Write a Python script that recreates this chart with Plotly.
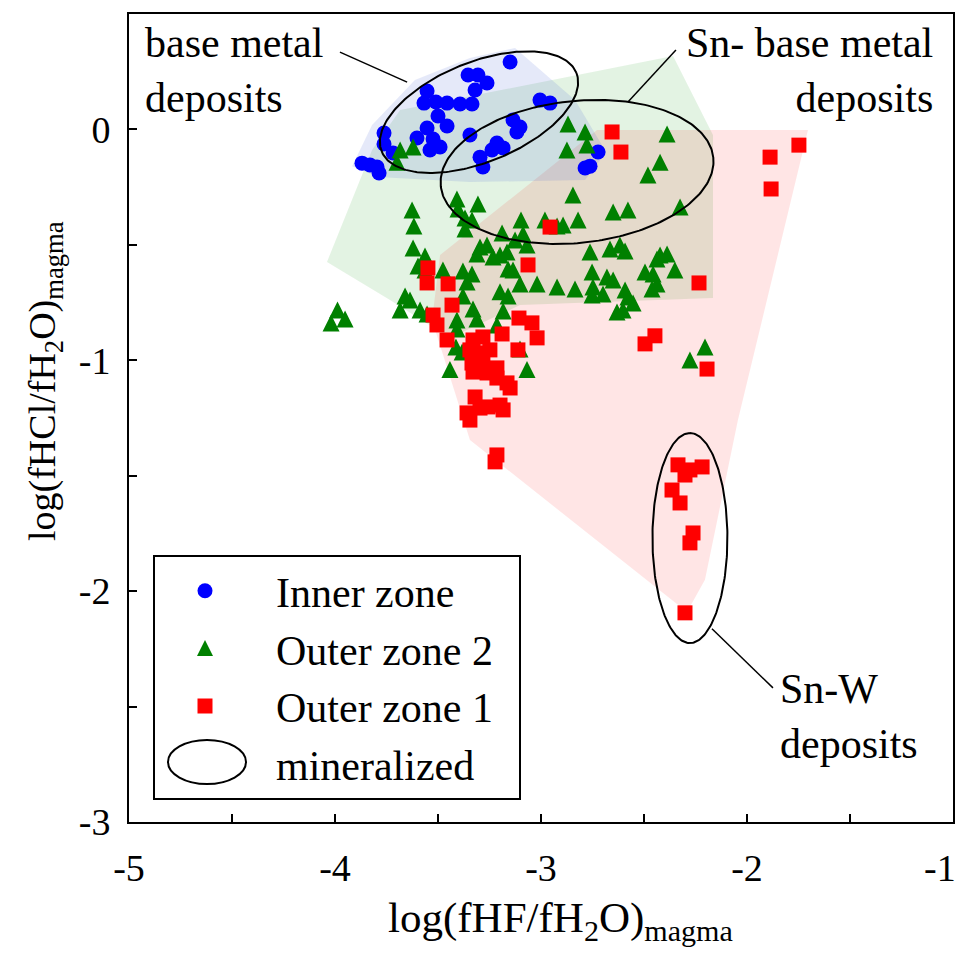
import numpy as np
import plotly.graph_objects as go

# ---------------- data ----------------
inner_x = [-3.150, -3.354, -3.306, -3.262, -3.320, -3.553, -3.568, -3.510, -3.456, -3.393,
           -3.335, -3.500, -3.456, -3.005, -2.956, -3.762, -3.762, -3.718, -3.553, -3.524,
           -3.490, -3.539, -3.602, -3.869, -3.796, -3.786, -3.830, -3.345, -3.136, -3.117,
           -3.102, -3.214, -3.184, -3.238, -3.296, -3.282, -2.723, -2.786, -2.762]
inner_y = [0.292, 0.236, 0.236, 0.201, 0.171, 0.166, 0.114, 0.119, 0.114, 0.110,
           0.110, 0.058, 0.015, 0.127, 0.114, -0.016, -0.063, -0.102, 0.006, -0.042,
           -0.076, -0.089, -0.037, -0.146, -0.163, -0.189, -0.154, -0.024, 0.041, -0.011,
           0.010, -0.059, -0.080, -0.089, -0.120, -0.163, -0.098, -0.167, -0.159]

outer2_x = [-3.684, -3.621, -3.699, -2.869, -2.786, -2.777, -2.874, -2.388, -2.422, -2.481,
            -2.845, -3.408, -3.306, -3.403, -3.369, -3.335, -3.369, -3.626, -3.617, -3.621,
            -3.563, -3.597, -3.563, -3.476, -3.660, -3.636, -3.684, -3.587, -3.553, -3.988,
            -4.019, -3.951, -3.379, -3.335, -3.359, -3.379, -3.330, -3.311, -3.408, -3.408,
            -3.413, -3.383, -3.442, -3.199, -3.160, -3.184, -3.214, -3.102, -3.019, -2.922,
            -2.835, -2.748, -2.680, -2.650, -2.699, -2.592, -2.578, -2.631, -2.602, -2.553,
            -2.495, -2.456, -2.437, -2.461, -2.388, -2.350, -2.437, -2.422, -3.296, -3.262,
            -3.233, -3.189, -3.165, -3.199, -3.160, -3.136, -3.097, -3.087, -3.068, -3.126,
            -2.981, -2.922, -2.893, -2.820, -2.650, -2.578, -2.325, -2.762, -2.665, -2.617,
            -2.592, -2.752, -2.752, -2.277, -2.204, -3.102, -3.068, -3.311]
outer2_y = [-0.016, -0.003, -0.068, 0.097, 0.062, 0.006, -0.016, 0.054, -0.068, -0.124,
            -0.210, -0.228, -0.249, -0.271, -0.310, -0.319, -0.358, -0.275, -0.345, -0.440,
            -0.475, -0.518, -0.535, -0.535, -0.648, -0.665, -0.709, -0.709, -0.726, -0.709,
            -0.765, -0.748, -0.540, -0.553, -0.587, -0.648, -0.704, -0.748, -0.752, -0.791,
            -0.869, -0.890, -0.966, -0.630, -0.648, -0.713, -0.773, -0.596, -0.596, -0.609,
            -0.618, -0.609, -0.566, -0.579, -0.639, -0.622, -0.652, -0.717, -0.709, -0.678,
            -0.544, -0.553, -0.596, -0.618, -0.466, -0.535, -0.488, -0.470, -0.436, -0.427,
            -0.479, -0.375, -0.457, -0.470, -0.531, -0.535, -0.319, -0.379, -0.427, -0.405,
            -0.319, -0.345, -0.340, -0.319, -0.284, -0.275, -0.262, -0.457, -0.444, -0.427,
            -0.453, -0.544, -0.644, -0.925, -0.869, -0.877, -0.966, -0.466]

outer1_x = [-2.655, -2.612, -1.888, -1.748, -1.883, -2.956, -2.233, -2.447, -2.495, -2.194,
            -3.063, -3.549, -3.553, -3.451, -3.432, -3.524, -3.505, -3.456, -3.107, -3.044,
            -3.019, -3.112, -3.330, -3.282, -3.189, -3.345, -3.296, -3.248, -3.335, -3.282,
            -3.330, -3.262, -3.214, -3.214, -3.165, -3.150, -3.320, -3.359, -3.345, -3.296,
            -3.257, -3.199, -3.184, -3.214, -3.223, -2.335, -2.277, -2.218, -2.301, -2.364,
            -2.325, -2.262, -2.277, -2.301]
outer1_y = [-0.011, -0.098, -0.120, -0.068, -0.258, -0.423, -0.665, -0.894, -0.929, -1.038,
            -0.587, -0.600, -0.665, -0.669, -0.761, -0.804, -0.847, -0.912, -0.817, -0.838,
            -0.903, -0.955, -0.912, -0.899, -0.886, -0.955, -0.968, -0.955, -1.012, -0.999,
            -1.051, -1.055, -1.033, -1.077, -1.098, -1.120, -1.159, -1.228, -1.259, -1.207,
            -1.202, -1.194, -1.215, -1.410, -1.440, -1.453, -1.475, -1.462, -1.497, -1.562,
            -1.618, -1.748, -1.791, -2.094]

# shaded fields of each group
inner_field_x = [-3.917, -3.791, -3.345, -2.786, -2.684, -2.835, -3.126, -3.345, -3.612, -3.820]
inner_field_y = [-0.159, -0.206, -0.228, -0.219, -0.098, 0.127, 0.353, 0.309, 0.214, 0.019]
outer2_field_x = [-4.039, -3.820, -3.684, -2.359, -2.165, -2.165, -3.102, -3.442, -3.733]
outer2_field_y = [-0.574, -0.089, 0.084, 0.318, -0.024, -0.730, -0.761, -0.903, -0.739]
outer1_field_x = [-2.728, -1.704, -2.044, -2.204, -2.291, -3.345, -3.529, -3.490]
outer1_field_y = [-0.003, -0.003, -1.259, -1.951, -2.090, -1.345, -0.825, -0.544]

# mineralized ellipses: centre (data), semi-axes (px), tilt (deg)
ell_cx = [-3.301, -2.825, -2.277]
ell_cy = [0.075, -0.184, -1.770]
ell_a = [105, 137, 105]
ell_b = [50, 71, 37.5]
ell_ang = [22, 6, 90]

# labels and leader lines
label_text = ["base metal<br>deposits", "Sn- base metal<br>deposits", "Sn-W<br>deposits"]
label_x = [-4.932, -1.087, -1.850]
label_y = [0.255, 0.255, -2.545]
label_anchor = ["left", "right", "left"]
leader_x0 = [-3.976, -2.345, -2.170]
leader_y0 = [0.335, 0.344, -2.163]
leader_x1 = [-3.650, -2.578, -1.874]
leader_y1 = [0.205, 0.119, -2.419]

x_range = [-5, -1]
y_range = [-3, 0.5]
x_ticks = [-5, -4, -3, -2, -1]
x_ticktext = ["-5", "-4", "-3", "-2", "-1"]
x_minor = [-4.5, -3.5, -2.5, -1.5]
y_ticks = [-3, -2, -1, 0]
y_ticktext = ["-3", "-2", "-1", "0"]
y_minor = [-2.5, -1.5, -0.5]

legend_names = ["Inner zone", "Outer zone 2", "Outer zone 1", "mineralized"]
x_title = "log(fHF/fH<sub>2</sub>O)<sub>magma</sub>"
y_title = "log(fHCl/fH<sub>2</sub>O)<sub>magma</sub>"

# ---------------- layout geometry ----------------
PAGE = 8                      # body margin of the page
W, H = 967 - 2 * PAGE, 958 - 2 * PAGE
ML, MR, MT, MB = 129 - PAGE, 14 - PAGE, 14 - PAGE, 136 - PAGE
PW, PH = W - ML - MR, H - MT - MB
PX_X = PW / (x_range[1] - x_range[0])
PX_Y = PH / (y_range[1] - y_range[0])


def paper_x(px):
    return (px - PAGE - ML) / PW


def paper_y(py):
    return (H - MB - (py - PAGE)) / PH


FONT = "Liberation Serif, Times New Roman, serif"
NB = "\u00a0"

fig = go.Figure()

for fx, fy, col in [(outer2_field_x, outer2_field_y, "rgba(0,150,0,0.11)"),
                    (outer1_field_x, outer1_field_y, "rgba(255,0,0,0.10)"),
                    (inner_field_x, inner_field_y, "rgba(70,100,210,0.14)")]:
    fig.add_trace(go.Scatter(x=fx + fx[:1], y=fy + fy[:1], mode="lines", fill="toself",
                             fillcolor=col, line=dict(width=0), showlegend=False,
                             hoverinfo="skip"))

fig.add_trace(go.Scatter(x=inner_x, y=inner_y, mode="markers", name=NB * 2 + legend_names[0],
                         marker=dict(symbol="circle", size=15, color="#0000ff")))
fig.add_trace(go.Scatter(x=outer2_x, y=outer2_y, mode="markers",
                         name=NB * 2 + legend_names[1] + NB * 2,
                         marker=dict(symbol="arrow-up", size=17, standoff=8.5, color="#008000")))
fig.add_trace(go.Scatter(x=outer1_x, y=outer1_y, mode="markers", name=NB * 2 + legend_names[2],
                         marker=dict(symbol="square", size=15, color="#ff0000")))

# ellipses
t = np.linspace(0, 2 * np.pi, 241)
ex, ey = [], []
for cx, cy, a, b, ang in zip(ell_cx, ell_cy, ell_a, ell_b, ell_ang):
    th = np.radians(ang)
    dx = a * np.cos(t) * np.cos(th) - b * np.sin(t) * np.sin(th)
    dy = a * np.cos(t) * np.sin(th) + b * np.sin(t) * np.cos(th)
    ex += list(cx + dx / PX_X) + [None]
    ey += list(cy + dy / PX_Y) + [None]
fig.add_trace(go.Scatter(x=ex, y=ey, mode="lines", line=dict(color="black", width=2),
                         showlegend=False, hoverinfo="skip"))

# legend entry for the ellipses (glyph drawn as a shape)
fig.add_trace(go.Scatter(x=[None], y=[None], mode="markers", name=NB * 2 + legend_names[3],
                         marker=dict(color="rgba(0,0,0,0)", size=14)))

for x0, y0, x1, y1 in zip(leader_x0, leader_y0, leader_x1, leader_y1):
    fig.add_shape(type="line", x0=x0, y0=y0, x1=x1, y1=y1, xref="x", yref="y",
                  line=dict(color="black", width=1.5))

for txt, tx, ty, anc in zip(label_text, label_x, label_y, label_anchor):
    fig.add_annotation(x=tx, y=ty, text=txt, showarrow=False, xanchor=anc, yanchor="middle",
                       align=anc, font=dict(family=FONT, size=42, color="black"))

# last x tick label sits at the very page edge: draw it right-aligned at its tick
fig.add_annotation(x=x_ticks[-1], y=paper_y(868), xref="x", yref="paper",
                   text=x_ticktext[-1], showarrow=False, xanchor="right", yanchor="middle",
                   xshift=5, font=dict(family=FONT, size=38, color="black"))

# axis titles
fig.add_annotation(x=paper_x(560), y=paper_y(921), xref="paper", yref="paper", text=x_title,
                   showarrow=False, xanchor="center", yanchor="middle",
                   font=dict(family=FONT, size=43, color="black"))
fig.add_annotation(x=paper_x(45), y=paper_y(381), xref="paper", yref="paper", text=y_title,
                   showarrow=False, xanchor="center", yanchor="middle", textangle=-90,
                   font=dict(family=FONT, size=38, color="black"))

# legend ellipse glyph
fig.add_shape(type="circle", xref="paper", yref="paper",
              x0=paper_x(168), x1=paper_x(246), y0=paper_y(784), y1=paper_y(740),
              line=dict(color="black", width=2))

axis_common = dict(ticks="inside", ticklen=8, tickwidth=1.5, tickcolor="black", showline=True,
                   linecolor="black", linewidth=2, mirror=True, showgrid=False, zeroline=False,
                   automargin=False, tickfont=dict(family=FONT, size=38, color="black"))

fig.update_layout(
    width=W, height=H,
    margin=dict(l=ML, r=MR, t=MT, b=MB, autoexpand=False),
    paper_bgcolor="white", plot_bgcolor="white",
    font=dict(family=FONT, size=38, color="black"),
    showlegend=True,
    legend=dict(x=paper_x(153), y=paper_y(555),
                xanchor="left", yanchor="top", bgcolor="rgba(255,255,255,0)",
                bordercolor="black", borderwidth=2, itemwidth=90,
                font=dict(family=FONT, size=42, color="black")),
    xaxis=dict(range=x_range, tickvals=x_ticks[:-1], ticktext=x_ticktext[:-1],
               ticklabelstandoff=11,
               minor=dict(tickvals=x_minor + x_ticks[-1:], ticks="inside", ticklen=8,
                          tickwidth=1.5, tickcolor="black", showgrid=False),
               **axis_common),
    yaxis=dict(range=y_range, tickvals=y_ticks, ticktext=y_ticktext,
               ticklabelstandoff=9,
               minor=dict(tickvals=y_minor, ticks="inside", ticklen=8, tickwidth=1.5,
                          tickcolor="black", showgrid=False),
               **axis_common),
)

fig.write_html("out.html")
